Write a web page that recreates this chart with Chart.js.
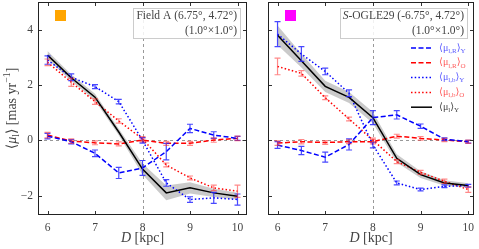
<!DOCTYPE html>
<html>
<head>
<meta charset="utf-8">
<script src="https://cdn.jsdelivr.net/npm/chart.js@4.4.1/dist/chart.umd.min.js"></script>
<style>
body { margin: 0; background: #fff; }
#wrap { position: relative; width: 479px; height: 249px; }
canvas { position: absolute; top: 0; }
</style>
</head>
<body>
<div id="wrap">
  <canvas id="left" width="250" height="249" style="left:0"></canvas>
  <canvas id="right" width="229" height="249" style="left:250px"></canvas>
</div>
<script>
// distances along the line of sight (kpc)
const distances = [6, 6.5, 7, 7.5, 8, 8.5, 9, 9.5, 10];
const xTicks = [6, 7, 8, 9, 10];
const yTicks = [-2, 0, 2, 4];

// Field A (6.75, 4.72)
const fieldA_mu      = [3.08, 2.26, 1.56, 0.30, -1.04, -1.90, -1.72, -1.90, -2.02];
const fieldA_muBand  = [0.15, 0.12, 0.12, 0.12, 0.20, 0.27, 0.20, 0.15, 0.12];
const fieldA_muRY    = [0.15, -0.05, -0.47, -1.18, -1.00, -0.41, 0.43, 0.19, 0.07];
const fieldA_muRYerr = [0.10, 0.08, 0.12, 0.20, 0.27, 0.30, 0.15, 0.12, 0.07];
const fieldA_muRO    = [0.19, -0.03, -0.09, -0.13, 0.01, -0.11, -0.11, 0.01, 0.07];
const fieldA_muROerr = [0.10, 0.08, 0.07, 0.07, 0.08, 0.07, 0.07, 0.08, 0.08];
const fieldA_muBY    = [2.90, 2.28, 1.94, 1.40, 0.00, -1.54, -2.14, -2.08, -2.14];
const fieldA_muBYerr = [0.15, 0.12, 0.07, 0.08, 0.10, 0.12, 0.10, 0.20, 0.20];
const fieldA_muBO    = [2.82, 2.10, 1.40, 0.70, 0.05, -0.89, -1.36, -1.72, -1.84];
const fieldA_muBOerr = [0.12, 0.15, 0.10, 0.08, 0.08, 0.07, 0.07, 0.10, 0.22];

// S-OGLE29 (-6.75, 4.72)
const ogle_mu      = [3.80, 2.88, 1.95, 1.55, 0.82, -0.65, -1.24, -1.54, -1.63];
const ogle_muBand  = [0.35, 0.25, 0.20, 0.20, 0.20, 0.15, 0.12, 0.10, 0.08];
const ogle_muRY    = [-0.17, -0.37, -0.61, -0.15, 0.82, 0.92, 0.51, 0.04, -0.05];
const ogle_muRYerr = [0.12, 0.15, 0.18, 0.20, 0.25, 0.15, 0.08, 0.05, 0.05];
const ogle_muRO    = [-0.10, -0.05, -0.08, -0.05, -0.05, 0.15, 0.07, 0.01, -0.05];
const ogle_muROerr = [0.08, 0.08, 0.07, 0.07, 0.08, 0.07, 0.06, 0.06, 0.06];
const ogle_muBY    = [3.84, 3.12, 2.49, 1.70, -0.17, -1.54, -1.78, -1.66, -1.64];
const ogle_muBYerr = [0.45, 0.27, 0.12, 0.12, 0.10, 0.07, 0.05, 0.05, 0.05];
const ogle_muBO    = [2.67, 2.42, 1.54, 0.77, 0.01, -0.77, -1.16, -1.48, -1.78];
const ogle_muBOerr = [0.30, 0.10, 0.07, 0.07, 0.07, 0.07, 0.07, 0.08, 0.10];

const BLUE = '#0000ff';
const RED = '#ff0000';
const FONT = "'Liberation Serif', 'DejaVu Serif', serif";

Chart.defaults.font.family = FONT;
Chart.defaults.color = '#444';

function pts(arr) {
    return distances.map((d, i) => ({x: d, y: arr[i]}));
}

// text with sub/superscripts: parts = [[text, kind]], kind n | i | b (sub) | p (sup)
function partFont(kind, size) {
    if (kind === 'b' || kind === 'p') return (size * 0.7) + 'px ' + FONT;
    if (kind === 'i') return 'italic ' + size + 'px ' + FONT;
    return size + 'px ' + FONT;
}
function richWidth(ctx, parts, size) {
    let w = 0;
    parts.forEach(p => { ctx.font = partFont(p[1], size); w += ctx.measureText(p[0]).width; });
    return w;
}
function drawRich(ctx, parts, x, y, size, color, align) {
    const w = richWidth(ctx, parts, size);
    let cx = x;
    if (align === 'center') cx = x - w / 2;
    if (align === 'right') cx = x - w;
    ctx.fillStyle = color;
    ctx.textBaseline = 'middle';
    ctx.textAlign = 'left';
    parts.forEach(p => {
        ctx.font = partFont(p[1], size);
        let dy = 0;
        if (p[1] === 'b') dy = size * 0.3;
        if (p[1] === 'p') dy = -size * 0.35;
        ctx.fillText(p[0], cx, y + dy);
        cx += ctx.measureText(p[0]).width;
    });
}

const legendRows = [
    {parts: [['⟨μ', 'n'], ['l,R', 'b'], ['⟩', 'n'], ['Y', 'b']], color: BLUE, dash: [5, 2.5], text: 'rgba(60,60,255,0.85)'},
    {parts: [['⟨μ', 'n'], ['l,R', 'b'], ['⟩', 'n'], ['O', 'b']], color: RED, dash: [5, 2.5], text: 'rgba(255,60,60,0.85)'},
    {parts: [['⟨μ', 'n'], ['l,b', 'b'], ['⟩', 'n'], ['Y', 'b']], color: BLUE, dash: [1.5, 2.2], text: 'rgba(60,60,255,0.85)'},
    {parts: [['⟨μ', 'n'], ['l,b', 'b'], ['⟩', 'n'], ['O', 'b']], color: RED, dash: [1.5, 2.2], text: 'rgba(255,60,60,0.85)'},
    {parts: [['⟨μ', 'n'], ['l', 'b'], ['⟩', 'n'], ['Y', 'b']], color: '#000', dash: [], text: '#444'}
];

const panelDecor = {
    id: 'panelDecor',
    beforeDatasetsDraw(chart) {
        const {ctx, chartArea: a, scales: {x, y}} = chart;
        ctx.save();
        ctx.strokeStyle = '#999';
        ctx.lineWidth = 1;
        ctx.setLineDash([3, 3]);
        const px = Math.round(x.getPixelForValue(8)) + 0.5;
        const py = Math.round(y.getPixelForValue(0)) + 0.5;
        ctx.beginPath();
        ctx.moveTo(px, a.top); ctx.lineTo(px, a.bottom);
        ctx.moveTo(a.left, py); ctx.lineTo(a.right, py);
        ctx.stroke();
        ctx.restore();
    },
    afterDatasetsDraw(chart) {
        const {ctx, scales: {x, y}} = chart;
        ctx.save();
        chart.data.datasets.forEach(ds => {
            if (!ds.err) return;
            ctx.strokeStyle = ds.errColor;
            ctx.lineWidth = 1.2;
            ctx.setLineDash([]);
            ds.data.forEach((p, i) => {
                const px = x.getPixelForValue(p.x);
                const y1 = y.getPixelForValue(p.y + ds.err[i]);
                const y2 = y.getPixelForValue(p.y - ds.err[i]);
                ctx.beginPath();
                ctx.moveTo(px, y1); ctx.lineTo(px, y2);
                ctx.moveTo(px - 3, y1); ctx.lineTo(px + 3, y1);
                ctx.moveTo(px - 3, y2); ctx.lineTo(px + 3, y2);
                ctx.stroke();
            });
        });
        ctx.restore();
    },
    afterDraw(chart, args, opts) {
        const {ctx, chartArea: a, scales: {x, y}} = chart;
        ctx.save();
        // inward ticks
        ctx.strokeStyle = '#333';
        ctx.lineWidth = 1;
        ctx.beginPath();
        xTicks.forEach(v => {
            const px = Math.round(x.getPixelForValue(v)) + 0.5;
            ctx.moveTo(px, a.bottom); ctx.lineTo(px, a.bottom - 4);
            ctx.moveTo(px, a.top); ctx.lineTo(px, a.top + 4);
        });
        yTicks.forEach(v => {
            const py = Math.round(y.getPixelForValue(v)) + 0.5;
            ctx.moveTo(a.left, py); ctx.lineTo(a.left + 4, py);
            ctx.moveTo(a.right, py); ctx.lineTo(a.right - 4, py);
        });
        ctx.stroke();
        // frame
        ctx.strokeStyle = '#222';
        ctx.strokeRect(Math.round(a.left) + 0.5, Math.round(a.top) + 0.5,
            Math.round(a.right - a.left) - 1, Math.round(a.bottom - a.top) - 1);

        // coloured square
        ctx.fillStyle = opts.square;
        ctx.fillRect(a.left + 17, a.top + 8, 11, 11);

        // annotation box
        const size = 11.5;
        const w1 = richWidth(ctx, opts.line1, size);
        const w2 = richWidth(ctx, opts.line2, size);
        const bw = Math.max(w1, w2) + 6;
        const bx = a.right - 7 - bw, by = a.top + 6;
        ctx.fillStyle = 'rgba(255,255,255,0.85)';
        ctx.fillRect(bx, by, bw, 30);
        ctx.strokeStyle = '#ccc';
        ctx.strokeRect(Math.round(bx) + 0.5, by + 0.5, Math.round(bw), 30);
        drawRich(ctx, opts.line1, a.right - 10, by + 8, size, '#444', 'right');
        drawRich(ctx, opts.line2, a.right - 10, by + 23, size, '#444', 'right');

        // legend
        if (opts.legend) {
            legendRows.forEach((r, i) => {
                const ly = a.top + 46 + i * 14.8;
                ctx.strokeStyle = r.color;
                ctx.lineWidth = 1.5;
                ctx.setLineDash(r.dash);
                ctx.beginPath();
                ctx.moveTo(a.right - 63, ly); ctx.lineTo(a.right - 42, ly);
                ctx.stroke();
                ctx.setLineDash([]);
                drawRich(ctx, r.parts, a.right - 35, ly, 10, r.text, 'left');
            });
        }

        // axis labels
        drawRich(ctx, [['D', 'i'], [' [kpc]', 'n']], (a.left + a.right) / 2, 238, 14, '#444', 'center');
        if (opts.ylabel) {
            ctx.translate(12, (a.top + a.bottom) / 2);
            ctx.rotate(-Math.PI / 2);
            drawRich(ctx, [['⟨', 'n'], ['μ', 'i'], ['l', 'b'], ['⟩ [mas yr', 'n'], ['−1', 'p'], [']', 'n']],
                0, 0, 14, '#444', 'center');
        }
        ctx.restore();
    }
};

function makePanel(id, d, decor, yAxisWidth, padRight, xMax) {
    const datasets = [
        {label: 'band hi', data: pts(d.mu.map((v, i) => v + d.band[i])), borderWidth: 0, pointRadius: 0, fill: false, order: 5},
        {label: 'band lo', data: pts(d.mu.map((v, i) => v - d.band[i])), borderWidth: 0, pointRadius: 0,
            fill: '-1', backgroundColor: 'rgba(128,128,128,0.42)', order: 5},
        {label: '<mu_l,R>_Y', data: pts(d.ry), err: d.ryErr, errColor: 'rgba(40,40,255,0.85)', borderColor: BLUE, borderDash: [5, 2.5], order: 2},
        {label: '<mu_l,R>_O', data: pts(d.ro), err: d.roErr, errColor: 'rgba(255,40,40,0.55)', borderColor: RED, borderDash: [5, 2.5], order: 2},
        {label: '<mu_l,b>_Y', data: pts(d.by), err: d.byErr, errColor: 'rgba(40,40,255,0.85)', borderColor: BLUE, borderDash: [1.5, 2.2], order: 2},
        {label: '<mu_l,b>_O', data: pts(d.bo), err: d.boErr, errColor: 'rgba(255,40,40,0.55)', borderColor: RED, borderDash: [1.5, 2.2], order: 2},
        {label: '<mu_l>_Y', data: pts(d.mu), borderColor: '#000', order: 1}
    ];
    datasets.forEach(ds => {
        ds.pointRadius = 0;
        ds.tension = 0;
        if (ds.borderWidth === undefined) ds.borderWidth = 1.5;
    });
    return new Chart(document.getElementById(id), {
        type: 'line',
        data: {datasets},
        plugins: [panelDecor],
        options: {
            responsive: false,
            animation: false,
            devicePixelRatio: 1,
            layout: {padding: {top: 2, right: padRight, left: 0, bottom: 0}},
            plugins: {legend: {display: false}, tooltip: {enabled: false}, panelDecor: decor},
            scales: {
                x: {
                    type: 'linear', min: 5.8, max: xMax,
                    afterBuildTicks: s => { s.ticks = xTicks.map(v => ({value: v})); },
                    afterFit: s => { s.height = 34; s.paddingLeft = 0; s.paddingRight = 0; },
                    grid: {display: false, drawTicks: false, tickLength: 0},
                    border: {display: false},
                    ticks: {padding: 6, font: {size: 11.5}, color: '#444', maxRotation: 0}
                },
                y: {
                    min: -2.7, max: 5.0,
                    afterBuildTicks: s => { s.ticks = yTicks.map(v => ({value: v})); },
                    afterFit: s => { s.width = yAxisWidth; s.paddingTop = 0; s.paddingBottom = 0; },
                    grid: {display: false, drawTicks: false, tickLength: 0},
                    border: {display: false},
                    ticks: {display: decor.ylabel, padding: 5, font: {size: 11.5}, color: '#444',
                        callback: v => v < 0 ? '−' + Math.abs(v) : String(v)}
                }
            }
        }
    });
}

makePanel('left', {
    mu: fieldA_mu, band: fieldA_muBand,
    ry: fieldA_muRY, ryErr: fieldA_muRYerr, ro: fieldA_muRO, roErr: fieldA_muROerr,
    by: fieldA_muBY, byErr: fieldA_muBYerr, bo: fieldA_muBO, boErr: fieldA_muBOerr
}, {
    square: '#ffa500', legend: false, ylabel: true,
    line1: [['Field A (6.75°, 4.72°)', 'n']],
    line2: [['(1.0°×1.0°)', 'n']]
}, 38, 3, 10.2);

makePanel('right', {
    mu: ogle_mu, band: ogle_muBand,
    ry: ogle_muRY, ryErr: ogle_muRYerr, ro: ogle_muRO, roErr: ogle_muROerr,
    by: ogle_muBY, byErr: ogle_muBYerr, bo: ogle_muBO, boErr: ogle_muBOerr
}, {
    square: '#ff00ff', legend: true, ylabel: false,
    line1: [['S', 'i'], ['-OGLE29 (-6.75°, 4.72°)', 'n']],
    line2: [['(1.0°×1.0°)', 'n']]
}, 18, 5, 10.12);
</script>
</body>
</html>
